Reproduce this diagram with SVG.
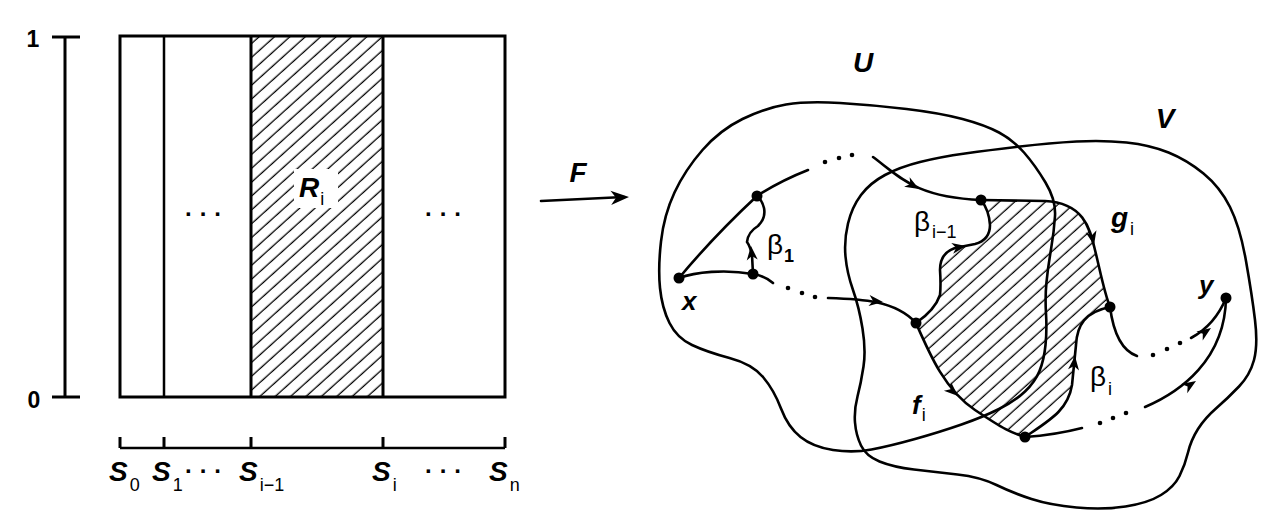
<svg xmlns="http://www.w3.org/2000/svg" xmlns:xlink="http://www.w3.org/1999/xlink" width="1286" height="531" viewBox="0 0 1286 531">
<style>
.ln{stroke:#000;fill:none;stroke-width:2.6;stroke-linecap:round;stroke-linejoin:round}
.bd{stroke:#000;fill:none;stroke-width:3}
.it{font-family:"Liberation Sans",Arial,sans-serif;font-weight:bold;font-style:italic;font-size:28px;fill:#000}
.gr{font-family:"Liberation Sans",Arial,sans-serif;font-size:28px;fill:#000}
.sub{font-family:"Liberation Sans",Arial,sans-serif;font-size:18px;font-style:normal;font-weight:normal}
.num{font-family:"Liberation Sans",Arial,sans-serif;font-weight:bold;font-size:23px;fill:#000}
.dots{font-family:"Liberation Sans",Arial,sans-serif;font-weight:bold;font-size:24px;letter-spacing:8px;fill:#000}
.nd{fill:#000}
.dt{fill:#000}
</style>
<defs>
<pattern id="hatch" patternUnits="userSpaceOnUse" width="20" height="10.3" patternTransform="rotate(-42)">
<line x1="0" y1="5" x2="20" y2="5" stroke="#000" stroke-width="1.3"/>
</pattern>
<path id="ah" d="M0,0 L-14,-5.5 L-10,0 L-14,5.5 Z" fill="#000"/>
</defs>
<rect width="1286" height="531" fill="#fff"/>

<!-- Left: unit interval axis -->
<g id="axis-vertical">
<line class="bd" x1="65" y1="37" x2="65" y2="397"/>
<line class="bd" x1="52" y1="37" x2="80" y2="37"/>
<line class="bd" x1="52" y1="397" x2="80" y2="397"/>
<text class="num" x="33" y="47" text-anchor="middle">1</text>
<text class="num" x="34" y="408" text-anchor="middle">0</text>
</g>

<g id="rectangle">
<rect x="251" y="36" width="132" height="361" fill="url(#hatch)"/>
<rect x="294" y="169" width="44" height="39" fill="#fff"/>
<rect class="bd" x="120" y="36" width="385" height="361"/>
<line class="bd" x1="164" y1="36" x2="164" y2="397" style="stroke-width:2.5"/>
<line class="bd" x1="251" y1="36" x2="251" y2="397"/>
<line class="bd" x1="383" y1="36" x2="383" y2="397"/>
<text class="dots" x="185" y="216">...</text>
<text class="dots" x="425" y="216">...</text>
<text class="it" x="299" y="197">R<tspan class="sub" dx="1" dy="8">i</tspan></text>
</g>

<g id="axis-horizontal">
<line class="bd" x1="120" y1="448" x2="505" y2="448" style="stroke-width:2.5"/>
<line class="bd" x1="120" y1="437" x2="120" y2="448"/>
<line class="bd" x1="164" y1="437" x2="164" y2="448"/>
<line class="bd" x1="251" y1="437" x2="251" y2="448"/>
<line class="bd" x1="383" y1="437" x2="383" y2="448"/>
<line class="bd" x1="505" y1="437" x2="505" y2="448"/>
<text class="it" x="109" y="481">S<tspan class="sub" dx="2" dy="10">0</tspan></text>
<text class="it" x="152" y="481">S<tspan class="sub" dx="2" dy="10">1</tspan></text>
<text class="dots" x="185" y="473">...</text>
<text class="it" x="239" y="481">S<tspan class="sub" dx="2" dy="10">i−1</tspan></text>
<text class="it" x="372" y="481">S<tspan class="sub" dx="2" dy="10">i</tspan></text>
<text class="dots" x="425" y="473">...</text>
<text class="it" x="489" y="481">S<tspan class="sub" dx="2" dy="10">n</tspan></text>
</g>

<g id="map-F">
<path class="ln" d="M541,201 Q580,199 624,197"/>
<use xlink:href="#ah" transform="translate(629,197) rotate(-3) scale(1.3)"/>
<text class="it" x="578" y="182" text-anchor="middle">F</text>
</g>

<!-- Right: regions -->
<g id="hatched-region">
<path fill="url(#hatch)" d="M981,200 L1045,201 C1085,203 1090,230 1095,250 C1100,270 1104,292 1110,307 C1085,312 1077,325 1076,345 L1072,385 C1068,410 1050,420 1025,437 C1010,432 1005,430 975,410 C945,390 930,355 916,323 Q935,310 940,295 Q941,285 940,270 Q940,250 960,247 L975,244 Q990,240 990,225 Q989,210 981,200 Z"/>
</g>

<g id="region-U">
<path class="ln" d="M660,288 Q658,268 661,241.5 Q664,215 674.5,192.5 Q685,170 702.5,150 Q720,130 742.5,119 Q765,108 786,104.5 Q807,101 840,103 Q873,105 906.5,109 Q940,113 962.5,119 Q985,125 999,132.5 Q1013,140 1024,152.5 Q1035,165 1045.5,182.5 Q1056,200 1055,216 Q1054,232 1051,249.5 Q1048,267 1046.5,282 Q1045,297 1046,313.5 Q1047,330 1045.5,345 Q1044,360 1039.5,371 Q1035,382 1025,391.5 Q1015,401 999,409 Q983,417 961.5,424.5 Q940,432 915,439 Q890,446 871.5,449.5 Q853,453 833,450 Q813,447 800.5,437 Q788,427 781,408.5 Q774,390 763,377 Q752,364 729.5,358 Q707,352 692,345 Q677,338 669.5,323 Q662,308 660,288 Z"/>
<text class="it" x="863" y="72" text-anchor="middle">U</text>
</g>

<g id="region-V">
<path class="ln" d="M1076.5,141.5 Q1103,140 1126.5,142.5 Q1150,145 1168.5,152.5 Q1187,160 1203.5,173.5 Q1220,187 1230,207 Q1240,227 1246,261 Q1252,295 1255,320 Q1258,345 1254,360 Q1250,375 1239,386.5 Q1228,398 1216.5,408 Q1205,418 1198,429 Q1191,440 1188,452.5 Q1185,465 1179.5,476 Q1174,487 1161,495 Q1148,503 1125.5,506.5 Q1103,510 1076.5,507.5 Q1050,505 1031.5,499 Q1013,493 996.5,485 Q980,477 957.5,474.5 Q935,472 914,469.5 Q893,467 879.5,461.5 Q866,456 861,445.5 Q856,435 855,422.5 Q854,410 857.5,396.5 Q861,383 863.5,366.5 Q866,350 862.5,328.5 Q859,307 853,290 Q847,273 845.5,256.5 Q844,240 848,223.5 Q852,207 861,195 Q870,183 885,175 Q900,167 920,162 Q940,157 965,153.5 Q990,150 1020,146.5 Q1050,143 1076.5,141.5 Z"/>
<text class="it" x="1165" y="128" text-anchor="middle">V</text>
</g>

<g id="connectors">
<path class="ln" d="M679,278 Q714,236 757,196"/>
<path class="ln" d="M679,278 C695,272 725,269 753,274"/>
<path class="ln" d="M757,196 Q780,181 808,170"/>
<circle class="dt" cx="825" cy="162" r="2.3"/>
<circle class="dt" cx="839" cy="158" r="2.3"/>
<circle class="dt" cx="852" cy="155" r="2.3"/>
<path class="ln" d="M873,157 C900,177 915,197 981,200"/>
<use xlink:href="#ah" transform="translate(919,189) rotate(30)"/>
<path class="ln" d="M753,274 L752,255 Q750,246 747,242 Q748,232 758,226 Q766,218 764,208 Q762,200 757,196"/>
<use xlink:href="#ah" transform="translate(751,246) rotate(-95)"/>
<path class="ln" d="M753,274 Q765,276 773,283"/>
<circle class="dt" cx="788" cy="288" r="2.3"/>
<circle class="dt" cx="802" cy="293" r="2.3"/>
<circle class="dt" cx="815" cy="297" r="2.3"/>
<path class="ln" d="M828,298 C860,299 895,300 916,323"/>
<use xlink:href="#ah" transform="translate(883,302) rotate(6)"/>
<path class="ln" d="M916,323 Q935,310 940,295 Q941,285 940,270 Q940,250 960,247 L975,244 Q990,240 990,225 Q989,210 981,200"/>
<use xlink:href="#ah" transform="translate(966,246) rotate(-10)"/>
<path class="ln" d="M916,323 C930,355 945,390 975,410 C1005,430 1010,432 1025,437"/>
<use xlink:href="#ah" transform="translate(958,396) rotate(42)"/>
<path class="ln" d="M981,200 L1045,201 C1085,203 1090,230 1095,250 C1100,270 1104,292 1110,307"/>
<use xlink:href="#ah" transform="translate(1094,245) rotate(78)"/>
<path class="ln" d="M1025,437 C1050,420 1068,410 1072,385 L1076,345 C1077,325 1085,312 1110,307"/>
<use xlink:href="#ah" transform="translate(1075,356) rotate(-84)"/>
<path class="ln" d="M1110,307 C1113,330 1120,350 1137,356"/>
<circle class="dt" cx="1153" cy="355" r="2.3"/>
<circle class="dt" cx="1167" cy="349" r="2.3"/>
<circle class="dt" cx="1180" cy="343" r="2.3"/>
<path class="ln" d="M1191,338 Q1215,325 1226,298"/>
<use xlink:href="#ah" transform="translate(1211,328) rotate(-35)"/>
<path class="ln" d="M1025,437 Q1055,435 1082,428"/>
<circle class="dt" cx="1100" cy="423" r="2.3"/>
<circle class="dt" cx="1113" cy="418" r="2.3"/>
<circle class="dt" cx="1126" cy="413" r="2.3"/>
<path class="ln" d="M1145,407 C1180,392 1225,360 1226,298"/>
<use xlink:href="#ah" transform="translate(1196,381) rotate(-33)"/>
</g>

<g id="node-x"><circle class="nd" cx="679" cy="278" r="5.5"/><text class="it" x="682" y="310" style="font-size:26px">x</text></g>
<g id="node-b1-top"><circle class="nd" cx="757" cy="196" r="5.5"/></g>
<g id="node-b1-bottom"><circle class="nd" cx="753" cy="274" r="5.5"/></g>
<g id="label-beta1"><text class="gr" x="767" y="254">β<tspan class="sub" style="font-weight:bold" dx="1" dy="8">1</tspan></text></g>
<g id="node-bim1"><circle class="nd" cx="981" cy="200" r="5.5"/></g>
<g id="label-beta-im1"><text class="gr" x="914" y="231">β<tspan class="sub" dx="2" dy="7">i−1</tspan></text></g>
<g id="node-fi"><circle class="nd" cx="916" cy="323" r="5.5"/></g>
<g id="label-fi"><text class="it" x="912" y="414" style="font-size:26px">f<tspan class="sub" dx="1" dy="7">i</tspan></text></g>
<g id="node-gi"><circle class="nd" cx="1110" cy="307" r="5.5"/></g>
<g id="label-gi"><text class="it" x="1111" y="227">g<tspan class="sub" dx="2" dy="8">i</tspan></text></g>
<g id="node-bi"><circle class="nd" cx="1025" cy="437" r="5.5"/></g>
<g id="label-beta-i"><text class="gr" x="1090" y="386">β<tspan class="sub" dx="2" dy="9">i</tspan></text></g>
<g id="node-y"><circle class="nd" cx="1226" cy="298" r="5.5"/><text class="it" x="1199" y="294" style="font-size:26px">y</text></g>
</svg>
